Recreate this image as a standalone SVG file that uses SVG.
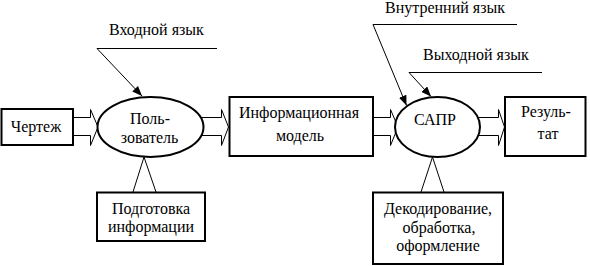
<svg xmlns="http://www.w3.org/2000/svg" width="590" height="266" viewBox="0 0 590 266">
<style>
  text { font-family: 'Liberation Serif', 'Times New Roman', serif; font-size: 16px; fill: #000; }
  .c { text-anchor: middle; }
  .box { fill: #fff; stroke: #000; stroke-width: 2; }
  .ell { fill: #fff; stroke: #000; stroke-width: 2; }
  .ln { fill: none; stroke: #000; stroke-width: 1; }
  .blk { fill: #fff; stroke: #000; stroke-width: 1; }
</style>
<defs>
  <marker id="ah" viewBox="0 0 10 8" refX="10" refY="4" markerWidth="10" markerHeight="8" markerUnits="userSpaceOnUse" orient="auto">
    <path d="M0,0 L10,4 L0,8 Z" fill="#000"/>
  </marker>
</defs>
<rect width="590" height="266" fill="#fff"/>
<g id="connectors">
  <polyline class="blk" points="73,117.5 90.5,117.5 90.5,109.5 98,127 90.5,145.5 90.5,135.5 73,135.5"/>
  <polyline class="blk" points="195,117.5 221.5,117.5 221.5,109.5 228.5,127 221.5,145.5 221.5,135.5 195,135.5"/>
  <polyline class="blk" points="373,117.5 390.5,117.5 390.5,109.5 398,127 390.5,145.5 390.5,135.5 373,135.5"/>
  <polyline class="blk" points="475,117.5 498.5,117.5 498.5,109.5 504.5,127 498.5,145.5 498.5,135.5 475,135.5"/>
  <polyline class="ln" points="217,48.5 97,48.5 142,96" marker-end="url(#ah)"/>
  <polyline class="ln" points="517,24.5 373,24.5 406.5,105.5" marker-end="url(#ah)"/>
  <polyline class="ln" points="542,72.5 409,72.5 431,96.5" marker-end="url(#ah)"/>
  <polyline class="ln" points="133,192 144,157 156,192"/>
  <polyline class="ln" points="421,192 432.5,157 444,192"/>
</g>
<g id="node-chertezh">
  <rect class="box" x="1.5" y="109" width="71.5" height="36"/>
  <text class="c" x="36" y="131.5">Чертеж</text>
</g>
<g id="node-polzovatel">
  <ellipse class="ell" cx="150.5" cy="127" rx="53" ry="30"/>
  <text class="c" x="150" y="124">Поль-</text>
  <text class="c" x="149.5" y="143">зователь</text>
</g>
<g id="node-podgotovka">
  <rect class="box" x="97" y="192.5" width="108" height="48.5"/>
  <text class="c" x="151" y="214">Подготовка</text>
  <text class="c" x="151" y="232">информации</text>
</g>
<g id="node-infomodel">
  <rect class="box" x="229.5" y="97" width="143.5" height="59"/>
  <text class="c" x="299" y="117.5">Информационная</text>
  <text class="c" x="300" y="141">модель</text>
</g>
<g id="node-sapr">
  <ellipse class="ell" cx="437.5" cy="127" rx="42.5" ry="30"/>
  <text class="c" x="435" y="125">САПР</text>
</g>
<g id="node-rezultat">
  <rect class="box" x="505" y="97" width="80.5" height="59"/>
  <text class="c" x="546" y="117">Резуль-</text>
  <text class="c" x="548" y="138.5">тат</text>
</g>
<g id="node-dekodirovanie">
  <rect class="box" x="373" y="192.5" width="130" height="71.5"/>
  <text class="c" x="438" y="214">Декодирование,</text>
  <text class="c" x="439" y="232.5">обработка,</text>
  <text class="c" x="438" y="251">оформление</text>
</g>
<g id="labels">
  <text x="109" y="35">Входной язык</text>
  <text x="385" y="12.5">Внутренний язык</text>
  <text x="423" y="59.5">Выходной язык</text>
</g>
</svg>
